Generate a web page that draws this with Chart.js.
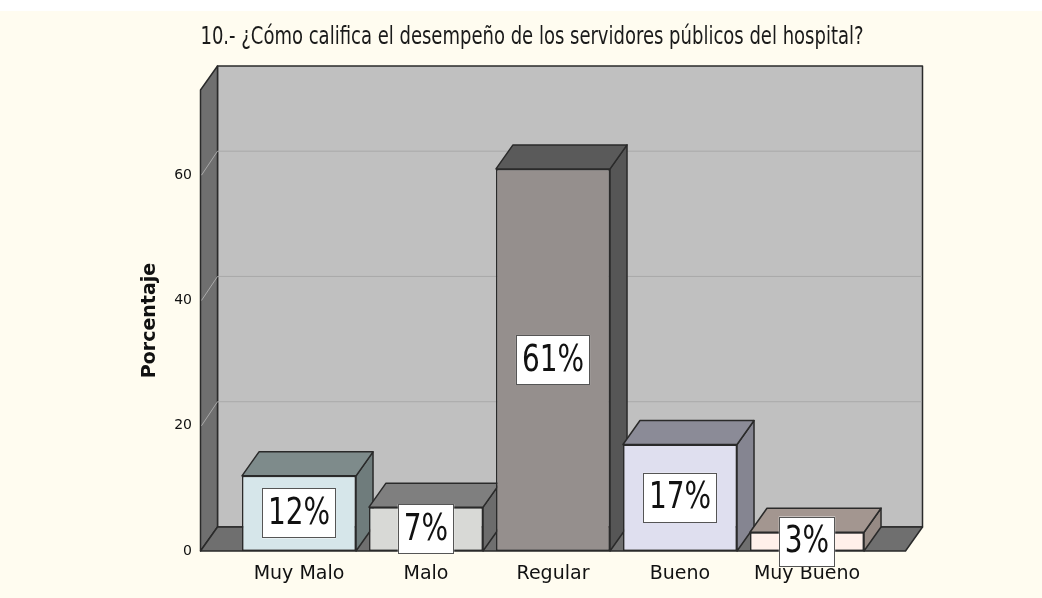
<!DOCTYPE html>
<html>
<head>
<meta charset="utf-8">
<script src="https://cdn.jsdelivr.net/npm/chart.js@4.4.0/dist/chart.umd.min.js"></script>
<style>
  body { margin: 0; background: #fff; }
  #marco { position: relative; width: 1042px; height: 598px; }
  #titulo {
    position: absolute; left: 0; top: 22px; width: 1064px;
    text-align: center; color: #1a1a1a;
    font-family: "Liberation Sans Narrow", "DejaVu Sans Condensed", sans-serif;
    font-size: 24px; white-space: nowrap;
    transform: scaleX(0.834); transform-origin: 532px 0;
  }
</style>
</head>
<body>
<div id="marco">
  <canvas id="grafico" width="1042" height="598"></canvas>
  <div id="titulo">10.- ¿Cómo califica el desempeño de los servidores públicos del hospital?</div>
</div>

<script>
var categorias = ['Muy Malo', 'Malo', 'Regular', 'Bueno', 'Muy Bueno'];
var porcentajes = [12, 7, 61, 17, 3];
var marcasY = [0, 20, 40, 60];

// front / top / side colour of every box
var colorFrente = ['#d6e6ea', '#d8d9d6', '#958f8d', '#dfdfef', '#fff0ea'];
var colorTapa   = ['#7e8b8b', '#7f7f7f', '#5a5a5a', '#8b8b97', '#a39690'];
var colorLado   = ['#6f7c7c', '#6c6c6c', '#565656', '#858591', '#968a84'];

var PX = 17, PY = -24;   // depth of the 3d effect
var MARGEN = 35;         // floor runs past the category band on both sides
var LINEA = '#2a2a2a';

function poligono(ctx, pts, relleno) {
  ctx.beginPath();
  ctx.moveTo(pts[0][0], pts[0][1]);
  for (var i = 1; i < pts.length; i++) ctx.lineTo(pts[i][0], pts[i][1]);
  ctx.closePath();
  if (relleno) { ctx.fillStyle = relleno; ctx.fill(); }
  ctx.stroke();
}

var caja3d = {
  id: 'caja3d',
  beforeDraw: function(chart) {
    var ctx = chart.ctx;
    ctx.save();
    ctx.fillStyle = '#fffcf0';
    ctx.fillRect(0, 11, chart.width, chart.height - 11);
    ctx.restore();
  },
  beforeDatasetsDraw: function(chart) {
    var ctx = chart.ctx, a = chart.chartArea, ey = chart.scales.y;
    var izq = a.left - MARGEN, der = a.right + MARGEN, arr = a.top, aba = a.bottom;
    ctx.save();
    ctx.lineJoin = 'round';
    ctx.strokeStyle = LINEA;
    ctx.lineWidth = 1.5;

    // back wall, left wall, floor
    poligono(ctx, [[izq + PX, arr + PY], [der + PX, arr + PY], [der + PX, aba + PY], [izq + PX, aba + PY]], '#c0c0c0');
    poligono(ctx, [[izq, arr], [izq + PX, arr + PY], [izq + PX, aba + PY], [izq, aba]], '#6f6f6f');
    poligono(ctx, [[izq, aba], [der, aba], [der + PX, aba + PY], [izq + PX, aba + PY]], '#6f6f6f');

    // grid lines wrap round the left wall onto the back wall
    ctx.strokeStyle = '#a9a9a9';
    ctx.lineWidth = 1;
    ey.ticks.forEach(function(t) {
      if (t.value <= 0) return;
      var y = ey.getPixelForValue(t.value);
      ctx.beginPath();
      ctx.moveTo(izq + 1, y);
      ctx.lineTo(izq + PX, y + PY);
      ctx.lineTo(der + PX - 1, y + PY);
      ctx.stroke();
    });

    // side and top of each box, left to right
    ctx.strokeStyle = LINEA;
    ctx.lineWidth = 1.5;
    chart.getDatasetMeta(0).data.forEach(function(barra, i) {
      var p = barra.getProps(['x', 'y', 'width', 'base'], true);
      var x1 = p.x - p.width / 2, x2 = p.x + p.width / 2;
      poligono(ctx, [[x2, p.y], [x2 + PX, p.y + PY], [x2 + PX, p.base + PY], [x2, p.base]], colorLado[i]);
      poligono(ctx, [[x1, p.y], [x2, p.y], [x2 + PX, p.y + PY], [x1 + PX, p.y + PY]], colorTapa[i]);
    });
    ctx.restore();
  },
  afterDraw: function(chart) {
    var ctx = chart.ctx;
    var estrecho = 0.84;   // condensed look for the value labels
    ctx.save();
    ctx.font = '37px "Liberation Sans Narrow", "DejaVu Sans Condensed", sans-serif';
    ctx.textAlign = 'center';
    ctx.textBaseline = 'middle';
    chart.getDatasetMeta(0).data.forEach(function(barra, i) {
      var p = barra.getProps(['x', 'y', 'base'], true);
      var txt = porcentajes[i] + '%';
      var w = ctx.measureText(txt).width * estrecho + 12, h = 50;
      var cy = (p.y + p.base) / 2;
      ctx.fillStyle = '#ffffff';
      ctx.fillRect(p.x - w / 2, cy - h / 2, w, h);
      ctx.strokeStyle = '#555';
      ctx.lineWidth = 1;
      ctx.strokeRect(Math.round(p.x - w / 2) + 0.5, Math.round(cy - h / 2) + 0.5, Math.round(w) - 1, h - 1);
      ctx.save();
      ctx.translate(p.x, cy + 1);
      ctx.scale(estrecho, 1);
      ctx.fillStyle = '#111';
      ctx.fillText(txt, 0, 0);
      ctx.restore();
    });
    ctx.restore();
  }
};

new Chart(document.getElementById('grafico'), {
  type: 'bar',
  data: {
    labels: categorias,
    datasets: [{
      data: porcentajes,
      backgroundColor: colorFrente,
      borderColor: LINEA,
      borderWidth: 1.5,
      borderSkipped: false,
      barPercentage: 0.898,
      categoryPercentage: 1
    }]
  },
  options: {
    responsive: false,
    animation: false,
    layout: { padding: { top: 90, right: 171.5, bottom: 0, left: 0 } },
    plugins: {
      legend: { display: false },
      tooltip: { enabled: false }
    },
    scales: {
      x: {
        grid: { display: false, drawTicks: false },
        border: { display: false },
        ticks: {
          padding: 12, maxRotation: 0, autoSkip: false, color: '#111',
          font: { family: 'DejaVu Sans', size: 19 }
        },
        afterFit: function(s) { s.height = 47; }
      },
      y: {
        min: 0,
        max: 73.6,
        // the long tick gap keeps labels clear of the left wall
        grid: { display: false, drawTicks: true, tickLength: 40 },
        border: { display: false },
        ticks: {
          padding: 3.5, color: '#111',
          font: { family: 'DejaVu Sans', size: 14 }
        },
        afterBuildTicks: function(s) {
          s.ticks = marcasY.map(function(v) { return { value: v }; });
        },
        afterFit: function(s) { s.width = 235.5; },
        title: {
          display: true,
          text: 'Porcentaje',
          color: '#111',
          font: { family: 'DejaVu Sans', size: 19, weight: 'bold' },
          padding: { top: 138.6, bottom: 0 }
        }
      }
    }
  },
  plugins: [caja3d]
});
</script>
</body>
</html>
